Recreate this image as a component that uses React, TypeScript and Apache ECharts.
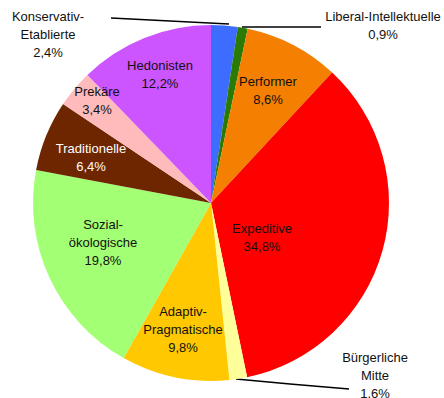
import React, { useEffect, useRef } from "react";
import * as echarts from "echarts";

const CATEGORIES = [
  "Konservativ-\nEtablierte",
  "Liberal-Intellektuelle",
  "Performer",
  "Expeditive",
  "Bürgerliche\nMitte",
  "Adaptiv-\nPragmatische",
  "Sozial-\nökologische",
  "Traditionelle",
  "Prekäre",
  "Hedonisten",
];
const VALUES = [2.4, 0.9, 8.6, 34.8, 1.6, 9.8, 19.8, 6.4, 3.4, 12.2];
const COLORS = [
  "#3d6dff",
  "#2a7a05",
  "#f47f00",
  "#ff0000",
  "#ffff99",
  "#ffc800",
  "#a3ff73",
  "#6e2600",
  "#ffbbbb",
  "#cc55ff",
];
const OUTSIDE = [true, true, false, false, true, false, false, false, false, false];
const WHITE_TEXT = [false, false, false, false, false, false, false, true, false, false];

// layout (pixels) of label centres and leader lines
const LABEL_POS: [number, number][] = [
  [48, 34],
  [383, 25],
  [268, 90],
  [262, 237],
  [375, 375],
  [183, 329],
  [103, 242],
  [91, 157],
  [97, 100],
  [160, 74],
];
const LEADERS: Record<number, [number, number][]> = {
  0: [[229, 24], [170, 21], [111, 18]],
  1: [[242, 27], [280, 27], [321, 27]],
  4: [[236, 379], [290, 384], [349, 389]],
};

export default function App() {
  const ref = useRef<HTMLDivElement>(null);
  useEffect(() => {
    if (!ref.current) return;
    const chart = echarts.init(ref.current, null, { renderer: "svg" });
    const font = "'Liberation Sans', Arial, sans-serif";
    chart.setOption({
      animation: false,
      backgroundColor: "#ffffff",
      series: [
        {
          type: "pie",
          center: [211, 203],
          radius: 178,
          startAngle: 90,
          clockwise: true,
          avoidLabelOverlap: false,
          itemStyle: { borderWidth: 0 },
          emphasis: { disabled: true },
          label: {
            show: true,
            position: "outside",
            fontFamily: font,
            fontSize: 13,
            lineHeight: 18,
            color: "#111",
            align: "center",
            formatter: (p: any) => `${p.name}\n${String(p.value).replace(".", ",")}%`,
          },
          labelLine: { show: true, lineStyle: { color: "#000", width: 1.5 } },
          labelLayout: (params: any) => {
            const i = params.dataIndex;
            const pos = LABEL_POS[i];
            const res: any = {
              x: pos[0],
              y: pos[1],
              align: "center",
              verticalAlign: "middle",
            };
            if (LEADERS[i]) res.labelLinePoints = LEADERS[i];
            return res;
          },
          data: CATEGORIES.map((name, i) => ({
            name,
            value: VALUES[i],
            itemStyle: { color: COLORS[i] },
            label: { color: WHITE_TEXT[i] ? "#ffffff" : "#111111" },
            labelLine: { show: OUTSIDE[i] },
          })),
        },
      ],
    });
    return () => chart.dispose();
  }, []);
  return (
    <div
      ref={ref}
      style={{ position: "fixed", left: 0, top: 0, width: 444, height: 398 }}
    />
  );
}
